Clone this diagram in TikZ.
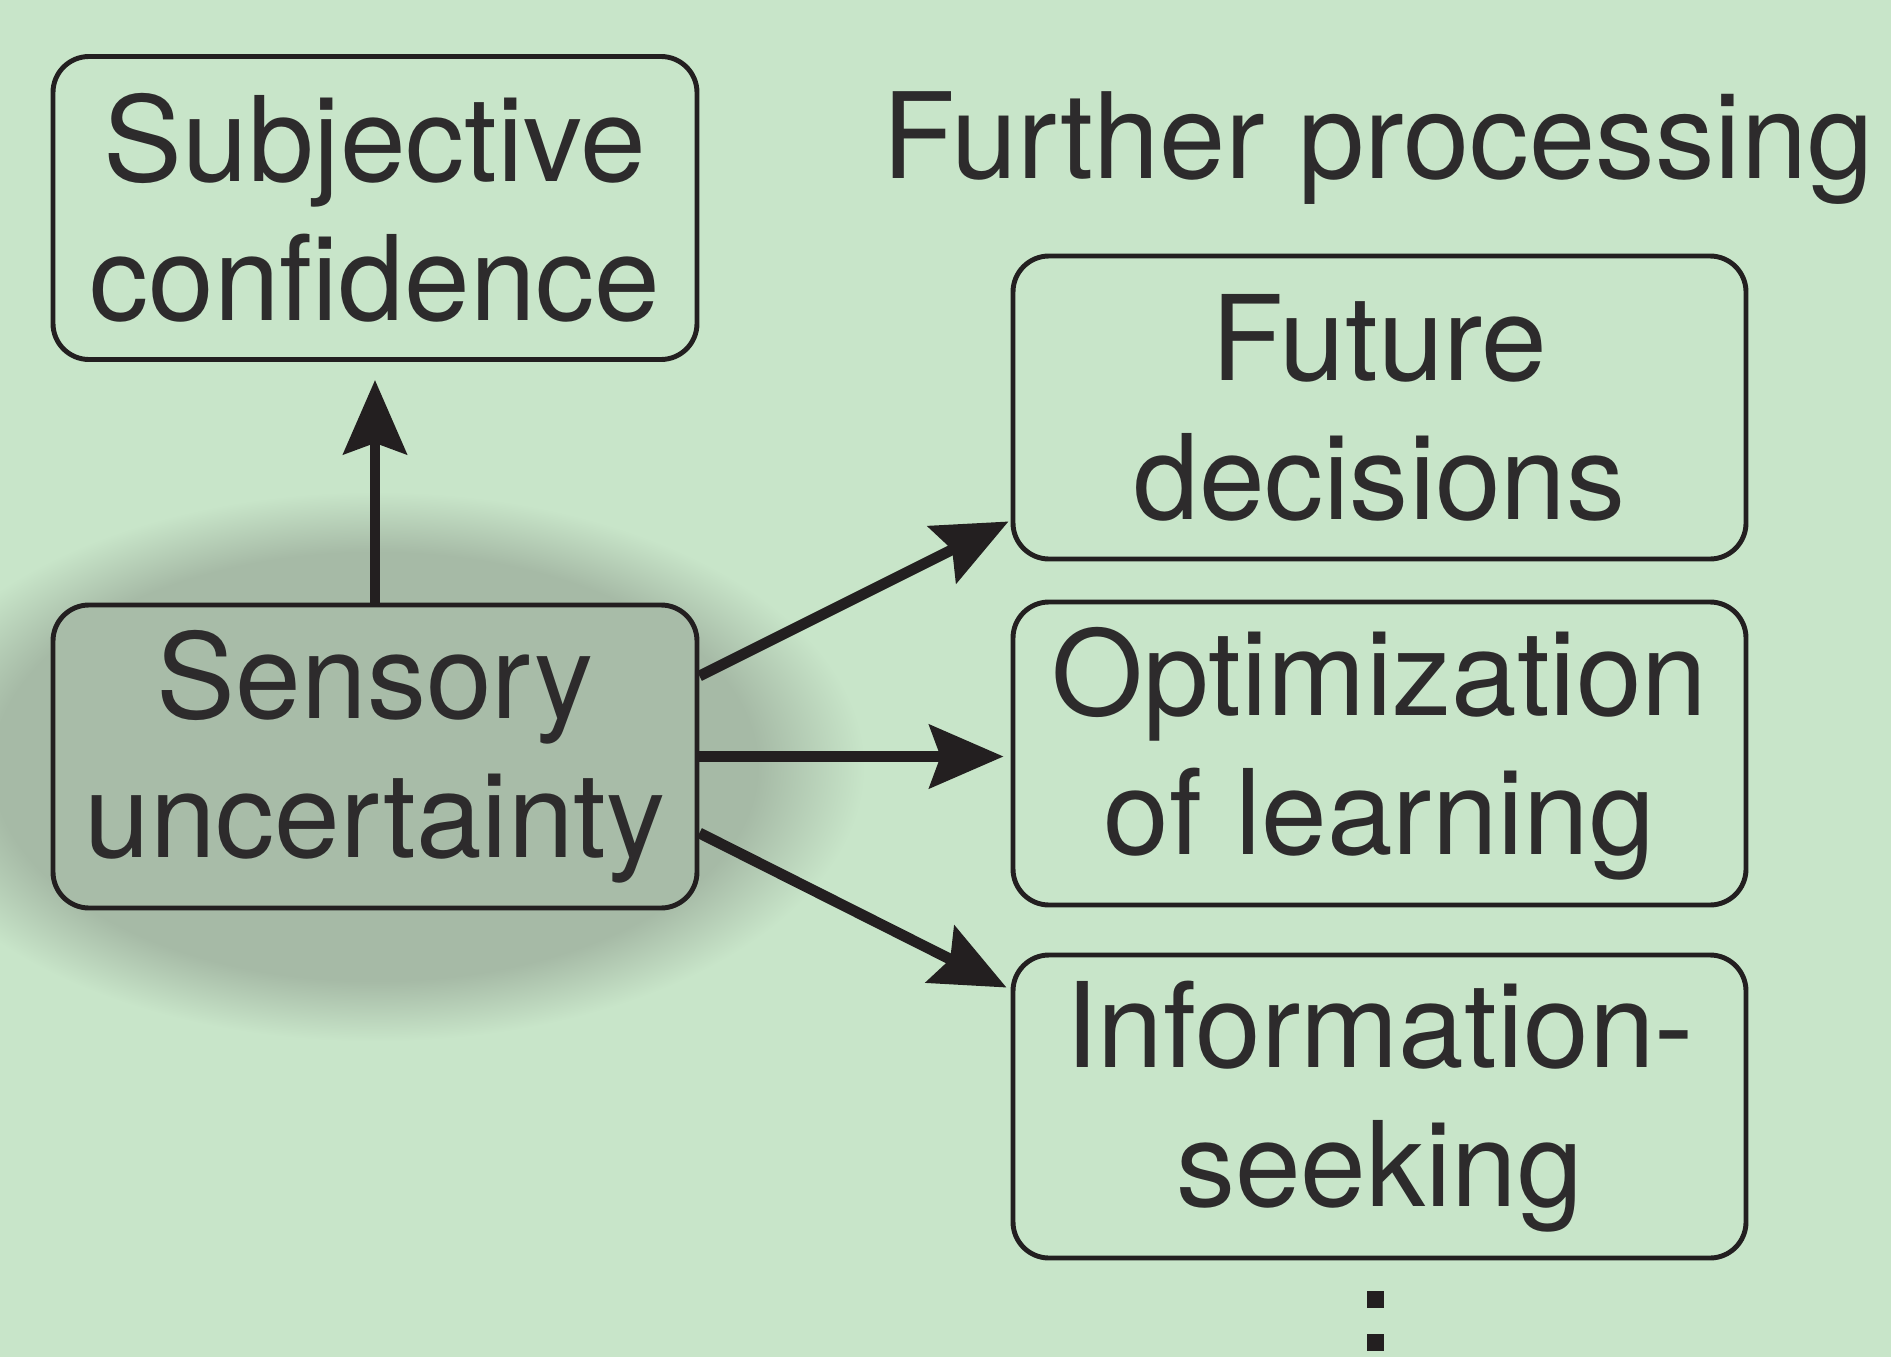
\documentclass[tikz,border=0pt]{standalone}
\usepackage{fontspec}
\setmainfont{TeX Gyre Heros}
\usepackage{tikz}
\usetikzlibrary{arrows.meta,backgrounds}

\definecolor{paneGreen}{HTML}{C8E5C9}
\definecolor{boxGreen}{HTML}{A8BCA8}
\definecolor{glowGreen}{HTML}{A6BAA6}
\colorlet{glowMid}{glowGreen!50!paneGreen}
\definecolor{inkBlack}{HTML}{231F20}
\definecolor{textBlack}{HTML}{2D2B2C}

\pgfdeclareradialshading{sensoryglow}{\pgfpointorigin}{%
    color(0bp)=(glowGreen); color(19.5bp)=(glowGreen);
    color(22.25bp)=(glowMid); color(25bp)=(paneGreen); color(50bp)=(paneGreen)}

\begin{document}
\begin{tikzpicture}
[
    box/.style={draw=inkBlack, line width=1.4pt, rounded corners=0.36cm,
        align=center, text=textBlack, inner sep=0pt,
        font=\fontsize{33.6}{39.5}\selectfont},
    leftbox/.style={box, minimum width=6.44cm, minimum height=3.03cm},
    rightbox/.style={box, minimum width=7.33cm, minimum height=3.03cm},
    arr/.style={draw=inkBlack, line width=3.1pt,
        -{Stealth[length=7.4mm, width=6.3mm, inset=1.1mm]}}
]
\useasboundingbox (0,0) rectangle (18.91,-13.57);

% Left column
\node[leftbox] (conf) at (3.75,-2.08) {Subjective\\confidence};
\node[leftbox, fill=boxGreen] (sensory) at (3.75,-7.565) {Sensory\\uncertainty};

% Right column
\node
[
    anchor=base,
    text=textBlack,
    inner sep=0pt,
    font=\fontsize{33.9}{39.5}\selectfont
] (further) at (13.78,-1.785) {Further processing};
\node[rightbox] (future) at (13.795,-4.075) {Future\\decisions};
\node[rightbox] (optim) at (13.795,-7.535) {Optimization\\of learning};
\node[rightbox] (info) at (13.795,-11.065) {Information-\\seeking};

% Arrows
\draw[arr] (sensory.north) -- ([yshift=-0.18cm]conf.south);
\draw[arr] ([yshift=0.805cm]sensory.east) -- ([xshift=-0.02cm,yshift=0.40cm]future.south west);
\draw[arr] (sensory.east) -- ([xshift=-0.07cm]sensory.east -| optim.west);
\draw[arr] ([yshift=-0.765cm]sensory.east) -- ([xshift=-0.04cm,yshift=-0.35cm]info.north west);

% Dots
\fill[inkBlack] (13.67,-12.91) rectangle ++(0.17,-0.17);
\fill[inkBlack] (13.67,-13.34) rectangle ++(0.17,-0.17);

% Background and glow
\begin{scope}[on background layer]
\fill[paneGreen] (0,0) rectangle (18.91,-13.57);
\shade[shading=sensoryglow] ([yshift=-0.1cm]sensory.center) ellipse (4.9 and 2.75);
\end{scope}
\end{tikzpicture}
\end{document}
